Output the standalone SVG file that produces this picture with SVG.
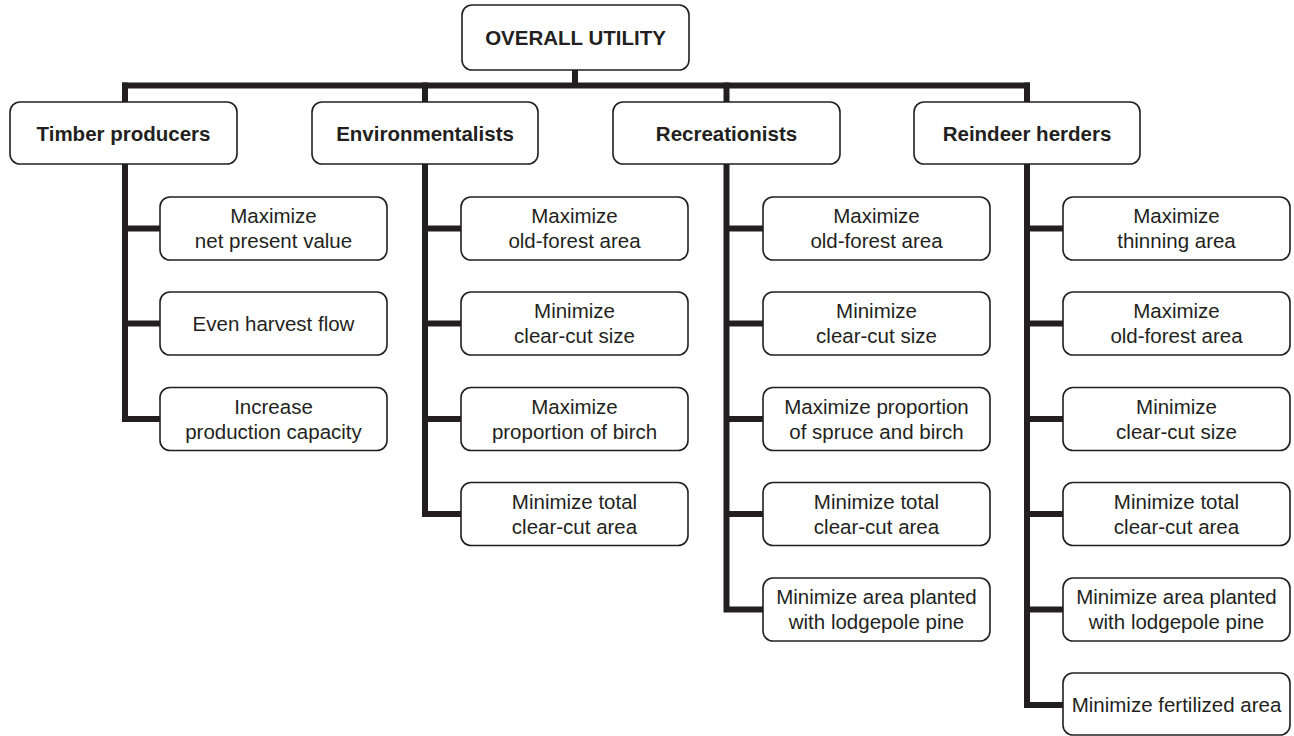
<svg xmlns="http://www.w3.org/2000/svg" width="1294" height="736" viewBox="0 0 1294 736">
<style>
.box{fill:#fff;stroke:#231f20;stroke-width:1.6}
.t{font-family:"Liberation Sans",Arial,sans-serif;font-size:20.5px;fill:#231f20;text-anchor:middle}
.b{font-weight:bold}
.c{fill:none;stroke:#231f20;stroke-width:6;stroke-linejoin:miter;stroke-linecap:butt}
</style>
<rect width="1294" height="736" fill="#fff"/>
<g id="connectors">
<path class="c" d="M575 70 V85.5 M122 85.5 H1030"/>
<path class="c" d="M125 82.5 V102 M425 82.5 V102 M726.5 82.5 V102 M1027 82.5 V102"/>
<path class="c" d="M125 164 V419 H160 M125 228.5 H160 M125 323.5 H160"/>
<path class="c" d="M425 164 V514 H461 M425 228.5 H461 M425 323.5 H461 M425 419 H461"/>
<path class="c" d="M726.5 164 V609.5 H763 M726.5 228.5 H763 M726.5 323.5 H763 M726.5 419 H763 M726.5 514 H763"/>
<path class="c" d="M1027 164 V705 H1063 M1027 228.5 H1063 M1027 323.5 H1063 M1027 419 H1063 M1027 514 H1063 M1027 609.5 H1063"/>
</g>
<g id="overall"><rect class="box" x="462" y="5" width="227" height="65" rx="10"/><text class="t b" x="575.5" y="45">OVERALL UTILITY</text></g>
<g id="timber"><rect class="box" x="10" y="102" width="227" height="62" rx="10"/><text class="t b" x="123.5" y="141">Timber producers</text></g>
<g id="env"><rect class="box" x="312" y="102" width="226" height="62" rx="10"/><text class="t b" x="425" y="141">Environmentalists</text></g>
<g id="rec"><rect class="box" x="613" y="102" width="227" height="62" rx="10"/><text class="t b" x="726.5" y="141">Recreationists</text></g>
<g id="rein"><rect class="box" x="914" y="102" width="226" height="62" rx="10"/><text class="t b" x="1027" y="141">Reindeer herders</text></g>

<g id="t1"><rect class="box" x="160" y="197" width="227" height="63" rx="10"/><text class="t" x="273.5" y="223">Maximize</text><text class="t" x="273.5" y="248">net present value</text></g>
<g id="t2"><rect class="box" x="160" y="292" width="227" height="63" rx="10"/><text class="t" x="273.5" y="331">Even harvest flow</text></g>
<g id="t3"><rect class="box" x="160" y="387.5" width="227" height="63" rx="10"/><text class="t" x="273.5" y="413.5">Increase</text><text class="t" x="273.5" y="438.5">production capacity</text></g>

<g id="e1"><rect class="box" x="461" y="197" width="227" height="63" rx="10"/><text class="t" x="574.5" y="223">Maximize</text><text class="t" x="574.5" y="248">old-forest area</text></g>
<g id="e2"><rect class="box" x="461" y="292" width="227" height="63" rx="10"/><text class="t" x="574.5" y="318">Minimize</text><text class="t" x="574.5" y="343">clear-cut size</text></g>
<g id="e3"><rect class="box" x="461" y="387.5" width="227" height="63" rx="10"/><text class="t" x="574.5" y="413.5">Maximize</text><text class="t" x="574.5" y="438.5">proportion of birch</text></g>
<g id="e4"><rect class="box" x="461" y="482.5" width="227" height="63" rx="10"/><text class="t" x="574.5" y="508.5">Minimize total</text><text class="t" x="574.5" y="533.5">clear-cut area</text></g>

<g id="r1"><rect class="box" x="763" y="197" width="227" height="63" rx="10"/><text class="t" x="876.5" y="223">Maximize</text><text class="t" x="876.5" y="248">old-forest area</text></g>
<g id="r2"><rect class="box" x="763" y="292" width="227" height="63" rx="10"/><text class="t" x="876.5" y="318">Minimize</text><text class="t" x="876.5" y="343">clear-cut size</text></g>
<g id="r3"><rect class="box" x="763" y="387.5" width="227" height="63" rx="10"/><text class="t" x="876.5" y="413.5">Maximize proportion</text><text class="t" x="876.5" y="438.5">of spruce and birch</text></g>
<g id="r4"><rect class="box" x="763" y="482.5" width="227" height="63" rx="10"/><text class="t" x="876.5" y="508.5">Minimize total</text><text class="t" x="876.5" y="533.5">clear-cut area</text></g>
<g id="r5"><rect class="box" x="763" y="578" width="227" height="63" rx="10"/><text class="t" x="876.5" y="604">Minimize area planted</text><text class="t" x="876.5" y="629">with lodgepole pine</text></g>

<g id="h1"><rect class="box" x="1063" y="197" width="227" height="63" rx="10"/><text class="t" x="1176.5" y="223">Maximize</text><text class="t" x="1176.5" y="248">thinning area</text></g>
<g id="h2"><rect class="box" x="1063" y="292" width="227" height="63" rx="10"/><text class="t" x="1176.5" y="318">Maximize</text><text class="t" x="1176.5" y="343">old-forest area</text></g>
<g id="h3"><rect class="box" x="1063" y="387.5" width="227" height="63" rx="10"/><text class="t" x="1176.5" y="413.5">Minimize</text><text class="t" x="1176.5" y="438.5">clear-cut size</text></g>
<g id="h4"><rect class="box" x="1063" y="482.5" width="227" height="63" rx="10"/><text class="t" x="1176.5" y="508.5">Minimize total</text><text class="t" x="1176.5" y="533.5">clear-cut area</text></g>
<g id="h5"><rect class="box" x="1063" y="578" width="227" height="63" rx="10"/><text class="t" x="1176.5" y="604">Minimize area planted</text><text class="t" x="1176.5" y="629">with lodgepole pine</text></g>
<g id="h6"><rect class="box" x="1063" y="673" width="227" height="62" rx="10"/><text class="t" x="1176.5" y="712">Minimize fertilized area</text></g>
</svg>
